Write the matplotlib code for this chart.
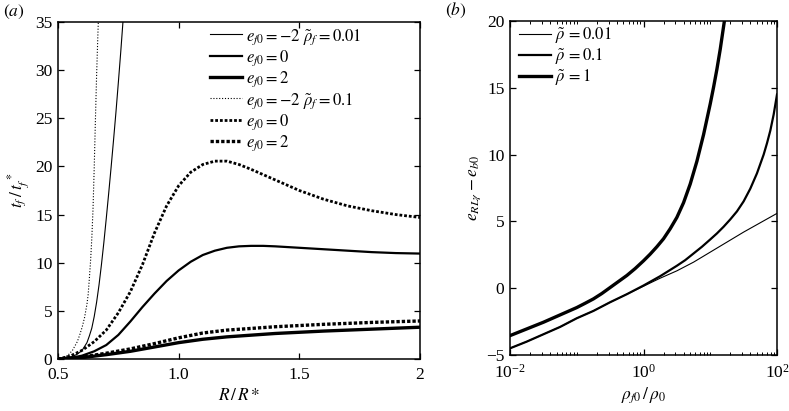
import numpy as np
import matplotlib
matplotlib.use('Agg')
from matplotlib import pyplot as plt
from matplotlib.ticker import LogLocator, NullFormatter, FixedLocator

plt.rcParams['font.family'] = 'serif'
plt.rcParams['font.serif'] = ['Liberation Serif', 'DejaVu Serif']
plt.rcParams['mathtext.fontset'] = 'stix'
plt.rcParams['xtick.direction'] = 'in'
plt.rcParams['ytick.direction'] = 'in'

# ---- panel (a): t_f / t_f* against R / R*
R_a1 = [0.5, 0.52, 0.55, 0.58, 0.6, 0.62, 0.63, 0.64, 0.65, 0.66, 0.67, 0.68, 0.69,
        0.70, 0.71, 0.72, 0.73, 0.74, 0.75, 0.76, 0.77]
t_a1 = [0, 0.02, 0.15, 0.5, 0.9, 1.7, 2.4, 3.2, 4.4, 5.9, 7.7, 9.8, 12.1,
        14.6, 17.2, 19.9, 22.7, 25.6, 28.7, 31.9, 35.3]

R_a4 = [0.5, 0.52, 0.54, 0.56, 0.58, 0.59, 0.6, 0.61, 0.62, 0.625, 0.63, 0.635,
        0.64, 0.645, 0.65, 0.655, 0.66, 0.665, 0.669]
t_a4 = [0, 0.1, 0.35, 0.9, 1.8, 2.5, 3.3, 4.3, 5.7, 6.7, 8.4, 10.2,
        12.5, 15.5, 19.8, 24.8, 29.5, 33.5, 36.5]

R_a = [0.5, 0.55, 0.6, 0.65, 0.7, 0.75, 0.8, 0.85, 0.9, 0.95, 1.0, 1.05, 1.1, 1.15,
       1.2, 1.25, 1.3, 1.35, 1.4, 1.5, 1.6, 1.7, 1.8, 1.9, 2.0]
t_a2 = [0, 0.1, 0.35, 0.8, 1.45, 2.5, 3.9, 5.4, 6.8, 8.1, 9.2, 10.1, 10.8, 11.25,
        11.55, 11.7, 11.75, 11.75, 11.7, 11.55, 11.4, 11.25, 11.1, 11.0, 10.95]
t_a5 = [0, 0.3, 0.9, 1.8, 3.0, 4.8, 7.0, 9.8, 13.1, 15.9, 18.0, 19.4, 20.2, 20.55,
        20.55, 20.2, 19.7, 19.15, 18.6, 17.5, 16.6, 15.9, 15.4, 15.0, 14.7]

R_b = [0.5, 0.6, 0.7, 0.8, 0.9, 1.0, 1.1, 1.2, 1.4, 1.6, 1.8, 2.0]
t_a3 = [0, 0.15, 0.45, 0.8, 1.25, 1.7, 2.05, 2.3, 2.65, 2.9, 3.1, 3.3]
t_a6 = [0, 0.2, 0.6, 1.05, 1.6, 2.2, 2.7, 3.0, 3.35, 3.6, 3.8, 3.95]

# ---- panel (b): e_RLgamma - e_b0 against rho_f0 / rho_0 (log10 of x)
lg_b1 = [-2.0, -1.75, -1.5, -1.25, -1.0, -0.75, -0.5, -0.25, 0.0, 0.25, 0.5, 0.75,
         1.0, 1.25, 1.5, 1.75, 2.0]
e_b1 = [-4.5, -4.0, -3.45, -2.9, -2.25, -1.7, -1.05, -0.45, 0.15, 0.75, 1.3, 1.95,
        2.7, 3.45, 4.2, 4.9, 5.6]
lg_b2 = [-2.0, -1.75, -1.5, -1.25, -1.0, -0.75, -0.5, -0.25, 0.0, 0.25, 0.5, 0.625,
         0.75, 0.875, 1.0, 1.1, 1.2, 1.3, 1.4, 1.5, 1.6, 1.7, 1.8, 1.85, 1.9, 1.95, 2.0]
e_b2 = [-4.5, -4.0, -3.45, -2.9, -2.25, -1.7, -1.05, -0.45, 0.2, 0.9, 1.68, 2.1,
        2.6, 3.1, 3.65, 4.1, 4.6, 5.15, 5.75, 6.5, 7.45, 8.6, 10.0, 10.85, 11.8, 13.0, 14.5]
lg_b3 = [-2.0, -1.75, -1.5, -1.25, -1.0, -0.875, -0.75, -0.625, -0.5, -0.375, -0.25,
         -0.125, 0.0, 0.1, 0.2, 0.3, 0.4, 0.5, 0.6, 0.7, 0.8, 0.9, 1.0, 1.05, 1.1,
         1.15, 1.2, 1.23]
e_b3 = [-3.55, -3.05, -2.55, -2.0, -1.45, -1.13, -0.8, -0.4, 0.05, 0.5, 0.95,
        1.47, 2.05, 2.55, 3.1, 3.7, 4.45, 5.3, 6.4, 7.8, 9.5, 11.5, 13.8, 15.05, 16.4,
        17.9, 19.6, 20.6]

fig = plt.figure(figsize=(7.89, 4.11), dpi=100)
W, H = 789, 411
axa = fig.add_axes([58 / W, (H - 359) / H, 362 / W, 337 / H])
axb = fig.add_axes([510 / W, (H - 355) / H, 267 / W, 334 / H])

axa.plot(R_a1, t_a1, color='k', lw=0.8,
         label=r'$e_{f0} = \mathit{-2}\ \tilde{\rho}_f = \mathit{0.01}$')
axa.plot(R_a, t_a2, color='k', lw=1.6, label=r'$e_{f0} = \mathit{0}$')
axa.plot(R_b, t_a3, color='k', lw=2.4, label=r'$e_{f0} = \mathit{2}$')
axa.plot(R_a4, t_a4, color='k', lw=0.8, dashes=(1, 1.6),
         label=r'$e_{f0} = \mathit{-2}\ \tilde{\rho}_f = \mathit{0.1}$')
axa.plot(R_a, t_a5, color='k', lw=2.0, dashes=(1.0, 0.7), label=r'$e_{f0} = \mathit{0}$')
axa.plot(R_b, t_a6, color='k', lw=2.4, dashes=(1.0, 0.6), label=r'$e_{f0} = \mathit{2}$')

axa.set_xlim(0.5, 2)
axa.set_ylim(0, 35)
axa.xaxis.set_major_locator(FixedLocator([0.5, 1.0, 1.5, 2.0]))
axa.set_xticklabels(['0.5', '1.0', '1.5', '2'])
axa.set_yticks(range(0, 36, 5))
axa.set_xlabel(r'$R\,/\,R*$', fontsize=12.5, labelpad=3)
axa.set_ylabel(r'$t_f\,/\,t_f^{\;*}$', fontsize=12.5, labelpad=2)
axa.legend(frameon=False, loc='upper left', bbox_to_anchor=(0.41, 0.995),
           fontsize=12, handlelength=1.95, handletextpad=0.25, labelspacing=0.1,
           borderpad=0.2, borderaxespad=0)

axb.plot(10 ** np.array(lg_b1), e_b1, color='k', lw=0.8, label=r'$\tilde{\rho}\, = \mathit{0.01}$')
axb.plot(10 ** np.array(lg_b2), e_b2, color='k', lw=1.6, label=r'$\tilde{\rho}\, = \mathit{0.1}$')
axb.plot(10 ** np.array(lg_b3), e_b3, color='k', lw=2.4, label=r'$\tilde{\rho}\, = \mathit{1}$')
axb.set_xscale('log')
axb.set_xlim(1e-2, 1e2)
axb.set_ylim(-5, 20)
axb.xaxis.set_major_locator(LogLocator(base=100))
axb.xaxis.set_minor_locator(LogLocator(base=10, subs=np.arange(1, 10)))
axb.xaxis.set_minor_formatter(NullFormatter())
axb.set_yticks(range(-5, 21, 5))
axb.set_xlabel(r'$\rho_{f0}\,/\,\rho_0$', fontsize=12.5, labelpad=3)
axb.set_ylabel(r'$e_{RL\gamma} - e_{b0}$', fontsize=12.5, labelpad=2)
axb.legend(frameon=False, loc='upper left', bbox_to_anchor=(0.02, 0.995),
           fontsize=12, handlelength=1.95, handletextpad=0.25, labelspacing=0.05,
           borderpad=0.2, borderaxespad=0)

for ax in (axa, axb):
    ax.tick_params(which='both', top=True, right=True, labelsize=12.5)
    ax.tick_params(axis='x', which='major', pad=6)
    ax.tick_params(axis='y', which='major', pad=4)
    ax.tick_params(which='major', length=4, width=0.9)
    ax.tick_params(which='minor', length=2, width=0.7)
    for s in ax.spines.values():
        s.set_linewidth(1.1)

fig.text(3 / W, 1 - 12 / H, r'$(a)$', fontsize=12.5, va='center')
fig.text(445 / W, 1 - 10 / H, r'$(b)$', fontsize=12.5, va='center')

fig.savefig('out.png', dpi=100)
